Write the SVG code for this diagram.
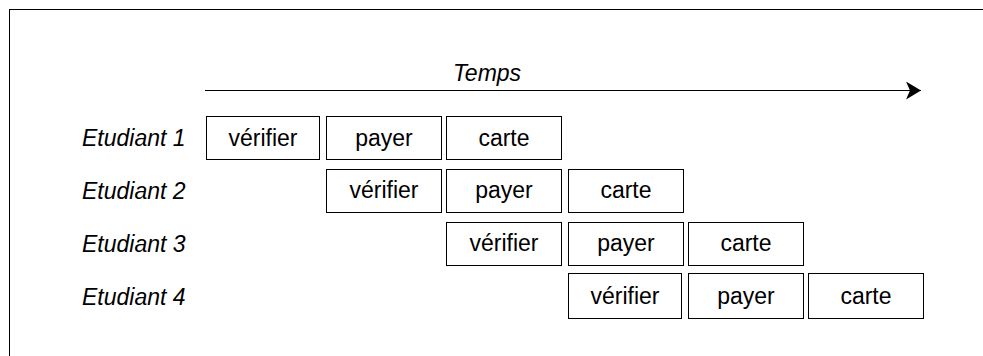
<svg xmlns="http://www.w3.org/2000/svg" width="983" height="356" viewBox="0 0 983 356">
<style>
.b{fill:#fff;stroke:#000;stroke-width:1}
.t{font-family:"Liberation Sans",Arial,sans-serif;font-size:23px;text-anchor:middle;fill:#000}
.l{font-family:"Liberation Sans",Arial,sans-serif;font-size:23px;font-style:italic;fill:#000}
</style>
<defs>
<marker id="ah" markerWidth="16" markerHeight="20" refX="15" refY="9" orient="auto" markerUnits="userSpaceOnUse">
<path d="M0,0 L15,9 L0,18 L4,9 Z" fill="#000"/>
</marker>
</defs>
<rect x="9.5" y="9.5" width="1000" height="400" fill="#fff" stroke="#000" stroke-width="1"/>
<g id="connectors">
<line x1="205" y1="90.5" x2="921" y2="90.5" stroke="#000" stroke-width="1" marker-end="url(#ah)"/>
</g>
<text class="l" x="487" y="81" text-anchor="middle">Temps</text>
<g id="labels">
<text class="l" x="82" y="146">Etudiant 1</text>
<text class="l" x="82" y="199">Etudiant 2</text>
<text class="l" x="82" y="252">Etudiant 3</text>
<text class="l" x="82" y="305">Etudiant 4</text>
</g>
<g id="r1">
<g id="r1v"><rect class="b" x="206.5" y="116.5" width="113" height="43"/><text class="t" x="263" y="146">vérifier</text></g>
<g id="r1p"><rect class="b" x="326.5" y="116.5" width="115" height="43"/><text class="t" x="384" y="146">payer</text></g>
<g id="r1c"><rect class="b" x="446.5" y="116.5" width="115" height="43"/><text class="t" x="504" y="146">carte</text></g>
</g>
<g id="r2">
<g id="r2v"><rect class="b" x="326.5" y="169.5" width="115" height="43"/><text class="t" x="384" y="198">vérifier</text></g>
<g id="r2p"><rect class="b" x="446.5" y="169.5" width="115" height="43"/><text class="t" x="504" y="198">payer</text></g>
<g id="r2c"><rect class="b" x="568.5" y="169.5" width="115" height="43"/><text class="t" x="626" y="198">carte</text></g>
</g>
<g id="r3">
<g id="r3v"><rect class="b" x="446.5" y="222.5" width="115" height="43"/><text class="t" x="504" y="251">vérifier</text></g>
<g id="r3p"><rect class="b" x="568.5" y="222.5" width="115" height="43"/><text class="t" x="626" y="251">payer</text></g>
<g id="r3c"><rect class="b" x="688.5" y="222.5" width="115" height="43"/><text class="t" x="746" y="251">carte</text></g>
</g>
<g id="r4">
<g id="r4v"><rect class="b" x="568.5" y="273.5" width="113" height="45"/><text class="t" x="625" y="304">vérifier</text></g>
<g id="r4p"><rect class="b" x="688.5" y="273.5" width="115" height="45"/><text class="t" x="746" y="304">payer</text></g>
<g id="r4c"><rect class="b" x="808.5" y="273.5" width="115" height="45"/><text class="t" x="866" y="304">carte</text></g>
</g>
</svg>
